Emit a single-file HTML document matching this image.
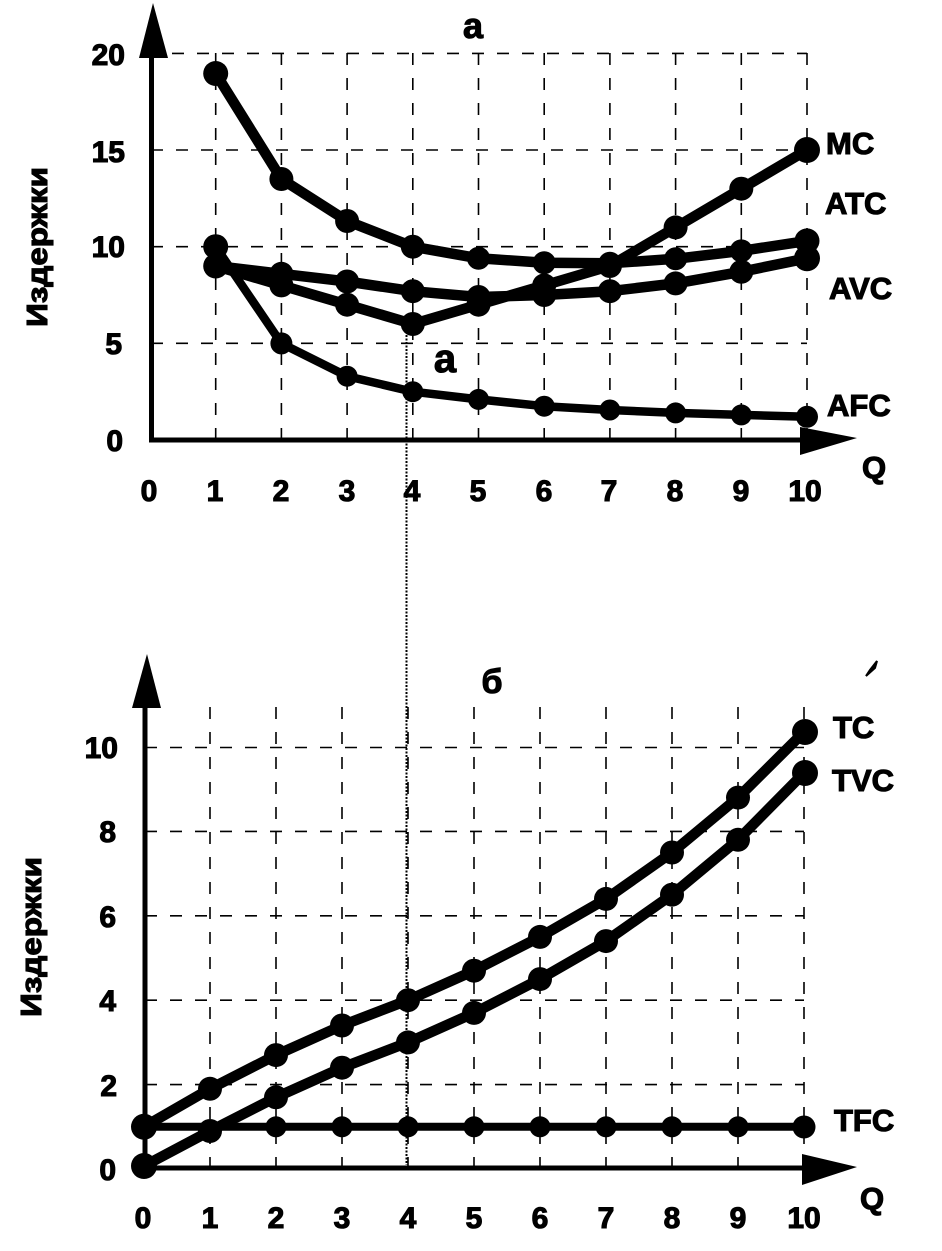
<!DOCTYPE html>
<html>
<head>
<meta charset="utf-8">
<style>
  html, body { margin:0; padding:0; background:#fff; }
  svg { display:block; }
  text { font-family: "Liberation Sans", "DejaVu Sans", sans-serif; font-weight: bold; fill:#000; stroke:#000; stroke-width:1.1; }
</style>
</head>
<body>
<svg width="942" height="1251" viewBox="0 0 942 1251" xmlns="http://www.w3.org/2000/svg">
  <rect width="942" height="1251" fill="#fff"/>

  <!-- ================= TOP CHART ================= -->
  <g stroke="#000" stroke-width="1.6" stroke-dasharray="12 13" fill="none">
    <line x1="172" y1="53.4" x2="807" y2="53.4"/>
    <line x1="151" y1="150" x2="807" y2="150"/>
    <line x1="151" y1="246.7" x2="807" y2="246.7"/>
    <line x1="151" y1="343.3" x2="807" y2="343.3"/>
    <line x1="215.7" y1="53" x2="215.7" y2="440"/>
    <line x1="281.4" y1="53" x2="281.4" y2="440"/>
    <line x1="347.1" y1="53" x2="347.1" y2="440"/>
    <line x1="412.8" y1="53" x2="412.8" y2="440"/>
    <line x1="478.5" y1="53" x2="478.5" y2="440"/>
    <line x1="544.2" y1="53" x2="544.2" y2="440"/>
    <line x1="609.9" y1="53" x2="609.9" y2="440"/>
    <line x1="675.6" y1="53" x2="675.6" y2="440"/>
    <line x1="741.3" y1="53" x2="741.3" y2="440"/>
    <line x1="807" y1="53" x2="807" y2="440"/>
  </g>

  <!-- dotted vertical connector -->
  <line x1="406.5" y1="335" x2="406.5" y2="1165" stroke="#000" stroke-width="2" stroke-dasharray="2 1.5"/>

  <!-- axes -->
  <line x1="151.5" y1="442" x2="151.5" y2="56" stroke="#000" stroke-width="5"/>
  <polygon points="139,58 168,58 153,3" fill="#000"/>
  <line x1="149" y1="440" x2="805" y2="440" stroke="#000" stroke-width="5"/>
  <polygon points="800,427 800,455 857,438" fill="#000"/>

  <g stroke="#000" stroke-width="10.5" stroke-linejoin="round" stroke-linecap="round" fill="none">
    <polyline points="215.7,73.5 281.4,179 347.1,221 412.8,246.7 478.5,258.3 544.2,262.7 609.9,263.3 675.6,258.8 741.3,250.9 807,240.9"/>
    <polyline points="215.7,266 281.4,285.4 347.1,304.7 412.8,324 478.5,304.7 544.2,285.4 609.9,266 675.6,227.4 741.3,188.7 807,150"/>
    <polyline points="215.7,266 281.4,273.8 347.1,281.5 412.8,291.2 478.5,297 544.2,295 609.9,291.2 675.6,283.4 741.3,271.8 807,258.3"/>
  </g>
  <polyline points="215.7,246.7 281.4,343.4 347.1,376.2 412.8,391.7 478.5,399.4 544.2,406.2 609.9,410 675.6,412.9 741.3,414.9 807,416.8" stroke="#000" stroke-width="8.5" stroke-linejoin="round" stroke-linecap="round" fill="none"/>
  <g fill="#000">
    <circle cx="215.7" cy="73.5" r="12.5"/><circle cx="281.4" cy="179" r="12"/><circle cx="347.1" cy="221" r="12"/>
    <circle cx="412.8" cy="246.7" r="12"/><circle cx="478.5" cy="258.3" r="11.5"/><circle cx="544.2" cy="262.7" r="11.5"/>
    <circle cx="609.9" cy="263.3" r="11.5"/><circle cx="675.6" cy="258.8" r="11.5"/><circle cx="741.3" cy="250.9" r="11.5"/>
    <circle cx="807" cy="240.9" r="12.5"/>
    <circle cx="215.7" cy="266" r="12.5"/><circle cx="281.4" cy="285.4" r="12"/><circle cx="347.1" cy="304.7" r="12"/>
    <circle cx="412.8" cy="324" r="12"/><circle cx="478.5" cy="304.7" r="12"/><circle cx="544.2" cy="285.4" r="12"/>
    <circle cx="609.9" cy="266" r="12"/><circle cx="675.6" cy="227.4" r="12"/><circle cx="741.3" cy="188.7" r="12"/>
    <circle cx="807" cy="150" r="13"/>
    <circle cx="281.4" cy="273.8" r="12"/><circle cx="347.1" cy="281.5" r="12"/><circle cx="412.8" cy="291.2" r="12"/>
    <circle cx="478.5" cy="297" r="12"/><circle cx="544.2" cy="295" r="12"/><circle cx="609.9" cy="291.2" r="12"/>
    <circle cx="675.6" cy="283.4" r="12"/><circle cx="741.3" cy="271.8" r="12"/><circle cx="807" cy="258.3" r="13"/>
    <circle cx="215.7" cy="246.7" r="12.5"/><circle cx="281.4" cy="343.4" r="11"/><circle cx="347.1" cy="376.2" r="10.5"/>
    <circle cx="412.8" cy="391.7" r="10.5"/><circle cx="478.5" cy="399.4" r="10.5"/><circle cx="544.2" cy="406.2" r="10.5"/>
    <circle cx="609.9" cy="410" r="10.5"/><circle cx="675.6" cy="412.9" r="10.5"/><circle cx="741.3" cy="414.9" r="10.5"/>
    <circle cx="807" cy="416.8" r="11"/>
  </g>

  <g font-size="30" text-anchor="end">
    <text x="125" y="65">20</text>
    <text x="125" y="162">15</text>
    <text x="125" y="257">10</text>
    <text x="122" y="354">5</text>
    <text x="123" y="451">0</text>
  </g>
  <g font-size="30" text-anchor="middle">
    <text x="149" y="501">0</text>
    <text x="215" y="501">1</text>
    <text x="281" y="501">2</text>
    <text x="347" y="501">3</text>
    <text x="412" y="501">4</text>
    <text x="478" y="501">5</text>
    <text x="544" y="501">6</text>
    <text x="609" y="501">7</text>
    <text x="675" y="501">8</text>
    <text x="741" y="501">9</text>
    <text x="805" y="501">10</text>
  </g>
  <text x="862" y="478" font-size="31">Q</text>
  <g font-size="31">
    <text x="826" y="154">MC</text>
    <text x="825" y="214">ATC</text>
    <text x="829" y="299">AVC</text>
    <text x="827" y="416">AFC</text>
  </g>
  <text x="473" y="38" font-size="36" text-anchor="middle">а</text>
  <text x="445" y="372" font-size="40" text-anchor="middle">а</text>
  <text transform="translate(47,247) rotate(-90)" font-size="29" text-anchor="middle" textLength="160" lengthAdjust="spacingAndGlyphs">Издержки</text>

  <!-- ================= BOTTOM CHART ================= -->
  <g stroke="#000" stroke-width="1.6" stroke-dasharray="12 13" fill="none">
    <line x1="145" y1="747.5" x2="804" y2="747.5"/>
    <line x1="145" y1="831.4" x2="804" y2="831.4"/>
    <line x1="145" y1="915.8" x2="804" y2="915.8"/>
    <line x1="145" y1="1000.2" x2="804" y2="1000.2"/>
    <line x1="145" y1="1084.6" x2="804" y2="1084.6"/>
    <line x1="210" y1="707" x2="210" y2="1169"/>
    <line x1="276" y1="707" x2="276" y2="1169"/>
    <line x1="342" y1="707" x2="342" y2="1169"/>
    <line x1="408" y1="707" x2="408" y2="1169"/>
    <line x1="474" y1="707" x2="474" y2="1169"/>
    <line x1="540" y1="707" x2="540" y2="1169"/>
    <line x1="606" y1="707" x2="606" y2="1169"/>
    <line x1="672" y1="707" x2="672" y2="1169"/>
    <line x1="738" y1="707" x2="738" y2="1169"/>
    <line x1="804" y1="707" x2="804" y2="1169"/>
  </g>

  <line x1="145" y1="1171" x2="145" y2="705" stroke="#000" stroke-width="5"/>
  <polygon points="132,708 161,708 147,654" fill="#000"/>
  <line x1="143" y1="1168" x2="805" y2="1168" stroke="#000" stroke-width="5"/>
  <polygon points="802,1154 802,1185 857,1167" fill="#000"/>

  <g stroke="#000" stroke-width="10.5" stroke-linejoin="round" stroke-linecap="round" fill="none">
    <polyline points="144,1126.8 210,1088.8 276,1055.1 342,1025.5 408,1000.2 474,970.7 540,936.9 606,898.9 672,852.5 738,797.6 804,732"/>
    <polyline points="144,1166 210,1131 276,1097.3 342,1067.7 408,1042.4 474,1012.9 540,979.1 606,941.1 672,894.7 738,839.8 804,773"/>
  </g>
  <line x1="144" y1="1126.8" x2="804" y2="1126.8" stroke="#000" stroke-width="8"/>
  <g fill="#000">
    <circle cx="144" cy="1126.8" r="13"/><circle cx="210" cy="1088.8" r="12"/><circle cx="276" cy="1055.1" r="12"/>
    <circle cx="342" cy="1025.5" r="12"/><circle cx="408" cy="1000.2" r="12"/><circle cx="474" cy="970.7" r="12"/>
    <circle cx="540" cy="936.9" r="12"/><circle cx="606" cy="898.9" r="12"/><circle cx="672" cy="852.5" r="12"/>
    <circle cx="738" cy="797.6" r="12"/><circle cx="805" cy="732" r="13"/>
    <circle cx="144" cy="1166" r="13"/><circle cx="210" cy="1131" r="12"/><circle cx="276" cy="1097.3" r="12"/>
    <circle cx="342" cy="1067.7" r="12"/><circle cx="408" cy="1042.4" r="12"/><circle cx="474" cy="1012.9" r="12"/>
    <circle cx="540" cy="979.1" r="12"/><circle cx="606" cy="941.1" r="12"/><circle cx="672" cy="894.7" r="12"/>
    <circle cx="738" cy="839.8" r="12"/><circle cx="805" cy="773" r="13"/>
    <circle cx="276" cy="1126.8" r="10.5"/><circle cx="342" cy="1126.8" r="10.5"/><circle cx="408" cy="1126.8" r="10.5"/>
    <circle cx="474" cy="1126.8" r="10.5"/><circle cx="540" cy="1126.8" r="10.5"/><circle cx="606" cy="1126.8" r="10.5"/>
    <circle cx="672" cy="1126.8" r="10.5"/><circle cx="738" cy="1126.8" r="10.5"/><circle cx="804" cy="1127" r="11.5"/>
  </g>

  <g font-size="30" text-anchor="end">
    <text x="118" y="758">10</text>
    <text x="116" y="842">8</text>
    <text x="116" y="927">6</text>
    <text x="116" y="1011">4</text>
    <text x="117" y="1096">2</text>
    <text x="116" y="1180">0</text>
  </g>
  <g font-size="30" text-anchor="middle">
    <text x="143" y="1228">0</text>
    <text x="210" y="1228">1</text>
    <text x="276" y="1228">2</text>
    <text x="342" y="1228">3</text>
    <text x="408" y="1228">4</text>
    <text x="474" y="1228">5</text>
    <text x="540" y="1228">6</text>
    <text x="606" y="1228">7</text>
    <text x="672" y="1228">8</text>
    <text x="738" y="1228">9</text>
    <text x="804" y="1228">10</text>
  </g>
  <text x="860" y="1209" font-size="31">Q</text>
  <g font-size="31">
    <text x="833" y="738">TC</text>
    <text x="832" y="791">TVC</text>
    <text x="834" y="1131">TFC</text>
  </g>
  <text x="492" y="693" font-size="34" text-anchor="middle">б</text>
  <text transform="translate(41,937) rotate(-90)" font-size="29" text-anchor="middle" textLength="160" lengthAdjust="spacingAndGlyphs">Издержки</text>

  <!-- small pen mark -->
  <path d="M866,676 L870,670 L877,661 L875,668 Z" fill="#000" stroke="#000" stroke-width="2"/>
</svg>
</body>
</html>
